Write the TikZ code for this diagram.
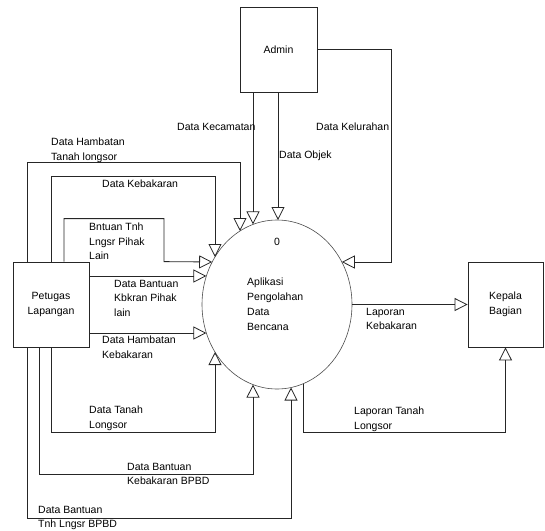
\documentclass[tikz,border=0pt]{standalone}
\usepackage{fontspec}
\setmainfont{Liberation Sans}
\usetikzlibrary{arrows.meta,shapes.geometric}

\begin{document}
\begin{tikzpicture} [
        x=1pt, y=-1pt,
        font=\fontsize{10.5}{14.5}\selectfont,
        entitas/.style={
        rectangle,draw=black!85,
        line width=0.8pt,
        minimum width=#1,
        minimum height=85pt,
        inner sep=0pt,
        align=center
        },
        flow/.style={draw=black!85,line width=0.8pt,-{Triangle[open,length=13pt,width=13pt]}},
        lbl/.style={anchor=north west,inner sep=0pt,align=left}
    ]

        % kotak 1px = 1pt, sumbu y ke bawah
    \useasboundingbox (0,0) rectangle (545,530);

    \node[entitas=77pt] (adm) at (278.5,49.5) {Admin};
    \node[entitas=76pt] (pet) at (51,304.5) {Petugas\\Lapangan};
    \node[entitas=75pt] (kep) at (505.5,304.5) {Kepala\\Bagian};
    \node[draw=black!70,line width=0.6pt,ellipse,minimum width=150pt,minimum height=169pt,
          inner sep=0pt,outer sep=0pt] (proc) at (277,304.5) {};
    \node[anchor=north,inner sep=0pt] (pnum) at (277,238) {0};
    \node[lbl,font=\fontsize{10.5}{15}\selectfont] (pname) at (247,278) {Aplikasi\\Pengolahan\\Data\\Bencana};

        % titik masuk pada tepi proses
    \coordinate (hl) at (240,231);
    \coordinate (kb) at (215,257);
    \coordinate (bt) at (212.2,262);
    \coordinate (bk) at (206.4,276);
    \coordinate (hk) at (206.4,333);
    \coordinate (tl) at (215,352);
    \coordinate (kbb) at (253,384.6);
    \coordinate (tlb) at (291,387.5);
    \coordinate (kc) at (253,224.4);
    \coordinate (ob) at (278,220);
    \coordinate (kl) at (341.8,262);
    \coordinate (lt) at (303,383.8);

    \draw[flow] ([xshift=-24pt]pet.north) -- ++(0,-99) -| (hl);
    \draw[flow] (pet.north) -- ++(0,-85) -| (kb);
    \draw[flow] ([xshift=13pt]pet.north) -- ++(0,-43) -| ++(100,43) -- (bt);
    \draw[flow] (pet.east |- bk) -- (bk);
    \draw[flow] (pet.east |- hk) -- (hk);
    \draw[flow] (pet.south) -- ++(0,85) -| (tl);
    \draw[flow] ([xshift=-12pt]pet.south) -- ++(0,127) -| (kbb);
    \draw[flow] ([xshift=-24pt]pet.south) -- ++(0,171) -| (tlb);
    \draw[flow] (adm.south -| kc) -- (kc);
    \draw[flow] (adm.south -| ob) -- (ob);
    \draw[flow] (adm.east) -- ++(74,0) |- (kl);
    \draw[flow] (proc.east) -- (kep.west);
    \draw[flow] (lt) -- ++(0,48.2) -| (kep.south);

    \node[lbl] (lkc) at (177,123) {Data Kecamatan};
    \node[lbl] (lkl) at (316,123) {Data Kelurahan};
    \node[lbl] (lob) at (279,151) {Data Objek};
    \node[lbl] (lhl) at (51,138) {Data Hambatan\\Tanah longsor};
    \node[lbl] (lkb) at (102,180) {Data Kebakaran};
    \node[lbl] (lbt) at (89,223) {Bntuan Tnh\\Lngsr Pihak\\Lain};
    \node[lbl] (lbk) at (114,280) {Data Bantuan\\Kbkran Pihak\\lain};
    \node[lbl] (lhk) at (102,336) {Data Hambatan\\Kebakaran};
    \node[lbl] (ltl) at (89,406) {Data Tanah\\Longsor};
    \node[lbl] (lkbb) at (127,463) {Data Bantuan\\Kebakaran BPBD};
    \node[lbl] (ltlb) at (38,506) {Data Bantuan\\Tnh Lngsr BPBD};
    \node[lbl] (llk) at (366,308) {Laporan\\Kebakaran};
    \node[lbl] (llt) at (354,407) {Laporan Tanah\\Longsor};

    \end{tikzpicture}
\end{document}
